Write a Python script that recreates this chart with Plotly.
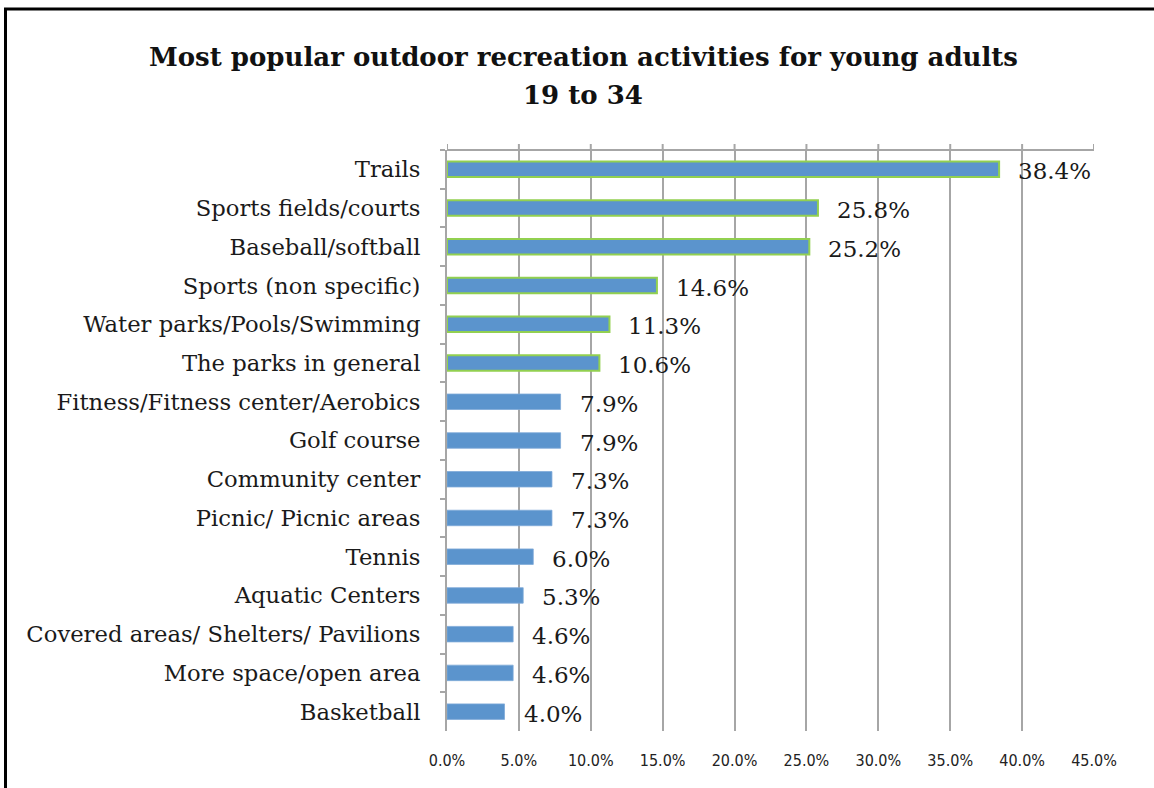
import plotly.graph_objects as go

categories = [
    "Trails",
    "Sports fields/courts",
    "Baseball/softball",
    "Sports (non specific)",
    "Water parks/Pools/Swimming",
    "The parks in general",
    "Fitness/Fitness center/Aerobics",
    "Golf course",
    "Community center",
    "Picnic/ Picnic areas",
    "Tennis",
    "Aquatic Centers",
    "Covered areas/ Shelters/ Pavilions",
    "More space/open area",
    "Basketball",
]
percentages = [38.4, 25.8, 25.2, 14.6, 11.3, 10.6, 7.9, 7.9, 7.3, 7.3, 6.0, 5.3, 4.6, 4.6, 4.0]
x_ticks = [0, 5, 10, 15, 20, 25, 30, 35, 40, 45]
x_tick_labels = ["0.0%", "5.0%", "10.0%", "15.0%", "20.0%", "25.0%", "30.0%", "35.0%", "40.0%", "45.0%"]
title_lines = ["Most popular outdoor recreation activities for young adults", "19 to 34"]

W, H = 1154, 788
ML, MR, MT, MB = 447, 60, 150, 57
PW, PH = W - ML - MR, H - MT - MB

BAR = "#5B94CD"
GREEN = "#92D050"
GRID = "#A6A6A6"
SERIF = "DejaVu Serif"


def px_x(p):
    return (p - ML) / PW


def px_y(p):
    return 1 - (p - MT) / PH


# top six bars carry a green outline
outline_colors = [GREEN if i < 6 else "#7FAAD8" for i in range(len(categories))]
outline_widths = [2 if i < 6 else 0.8 for i in range(len(categories))]

fig = go.Figure()
fig.add_trace(go.Bar(
    x=percentages,
    y=categories,
    orientation="h",
    width=0.4,
    marker=dict(color=BAR, line=dict(color=outline_colors, width=outline_widths)),
    hoverinfo="skip",
))

for cat, val in zip(categories, percentages):
    fig.add_annotation(
        x=val, y=cat, xref="x", yref="y",
        text=f"{val:.1f}%", showarrow=False,
        xanchor="left", xshift=17, yshift=-2,
        font=dict(family=SERIF, size=23, color="#1a1a1a"),
    )

# two-line bold title
for line, ypix in zip(title_lines, [57, 95]):
    fig.add_annotation(
        x=px_x(583), y=px_y(ypix), xref="paper", yref="paper",
        text=f"<b>{line}</b>", showarrow=False,
        xanchor="center", yanchor="middle",
        font=dict(family=SERIF, size=26, color="#111111"),
    )

fig.update_layout(
    width=W, height=H,
    margin=dict(l=ML, r=MR, t=MT, b=MB, pad=0),
    paper_bgcolor="white", plot_bgcolor="white",
    showlegend=False,
    xaxis=dict(
        range=[0, 45], tickvals=x_ticks, ticktext=x_tick_labels,
        showgrid=True, gridcolor=GRID, gridwidth=2,
        zeroline=False, showline=False, ticks="",
        tickfont=dict(family="Liberation Sans Narrow, DejaVu Sans Condensed, sans-serif", size=16, color="#222222"),
        ticklabelstandoff=18,
        fixedrange=True,
    ),
    yaxis=dict(
        type="category", range=[len(categories) - 0.5, -0.5],
        showline=True, linecolor=GRID, linewidth=2,
        ticks="outside", ticklen=5, tickwidth=2, tickcolor=GRID,
        tickson="boundaries",
        showgrid=False,
        tickfont=dict(family=SERIF, size=22.7, color="#1a1a1a"),
        ticklabelstandoff=20,
    ),
)

# top edge of the plot area with short outward ticks at each gridline
fig.add_shape(type="line", xref="paper", yref="paper", x0=0, x1=1, y0=1, y1=1,
              line=dict(color=GRID, width=2))
for t in x_ticks:
    fig.add_shape(type="line", xref="x", yref="paper", x0=t, x1=t,
                  ysizemode="pixel", yanchor=1, y0=0, y1=6,
                  line=dict(color=GRID, width=2))

# black frame along the left and top edges of the figure
fig.add_shape(type="line", xref="paper", yref="paper",
              x0=px_x(5.5), x1=px_x(5.5), y0=px_y(8), y1=px_y(H + 5),
              line=dict(color="black", width=3))
fig.add_shape(type="line", xref="paper", yref="paper",
              x0=px_x(4), x1=px_x(W + 5), y0=px_y(9), y1=px_y(9),
              line=dict(color="black", width=3))

fig.write_html("out.html")
